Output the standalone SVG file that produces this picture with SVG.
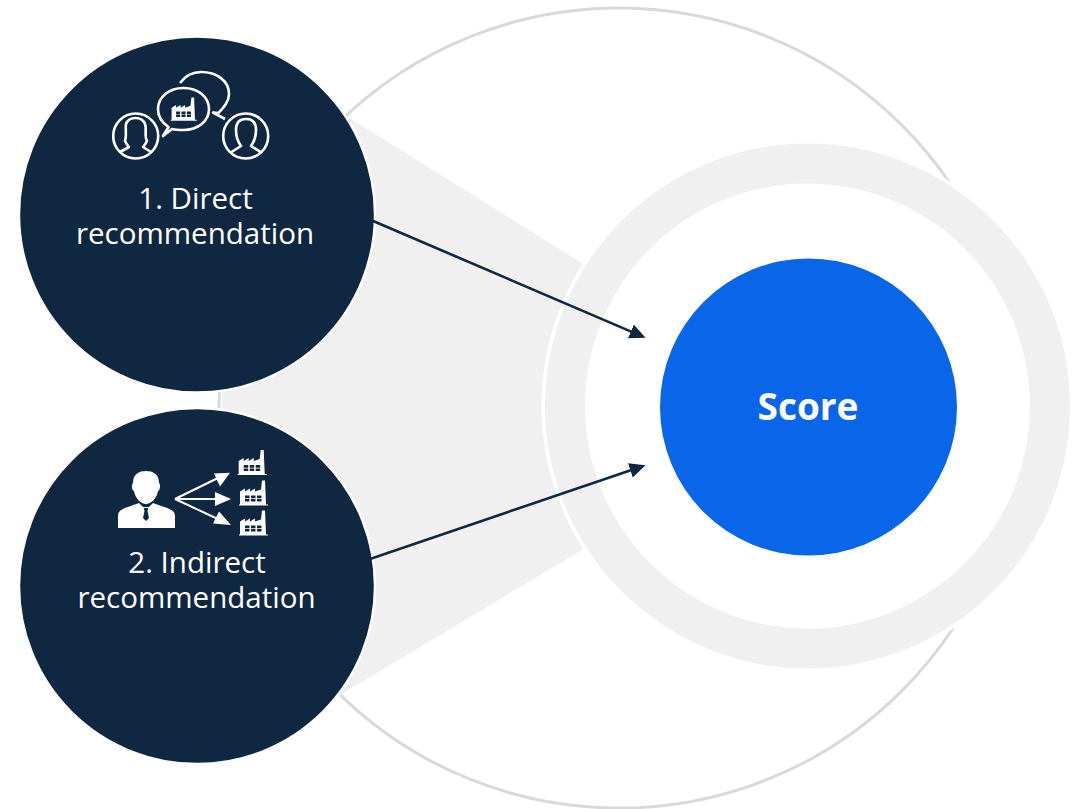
<svg xmlns="http://www.w3.org/2000/svg" xmlns:xlink="http://www.w3.org/1999/xlink" width="1081" height="809" viewBox="0 0 1081 809">
<style>
.lbl{font-family:"Open Sans","Noto Sans","Liberation Sans",sans-serif;font-size:29.5px;fill:#fff;text-anchor:middle}
.score{font-family:"Open Sans","Noto Sans","Liberation Sans",sans-serif;font-size:37px;font-weight:700;fill:#fff;text-anchor:middle}
.dark{fill:#102741;stroke:#fff;stroke-width:2.400}
.ln{fill:none;stroke:#fff;stroke-width:2.600;stroke-linejoin:round}
.conn{fill:none;stroke:#102741;stroke-width:2.600;marker-end:url(#ah)}
</style>
<defs>
<marker id="ah" markerUnits="userSpaceOnUse" markerWidth="17" markerHeight="16" refX="10.500" refY="7.500" orient="auto"><path d="M0,0L16,7.500L0,15Z" fill="#102741"/></marker>
<path id="fac" fill="#fff" fill-rule="evenodd" d="M0,25V24H1V11L6,8V11L11,8V11L16,8V11L22,9L23,0H26L27,24H29V25ZM6,15V17.700H10.500V15ZM12,15V17.700H16.500V15ZM18,15V17.700H22.500V15ZM6,18.400V21H10.500V18.400ZM12,18.400V21H16.500V18.400ZM18,18.400V21H22.500V18.400Z"/>
</defs>
<g id="background">
<circle cx="619" cy="408" r="400" fill="#fff" stroke="#d9d9d9" stroke-width="3"/>
<path d="M345,115L582,263V550L340,695L222,586V214Z" fill="#f0f0f0"/>
<circle cx="807.500" cy="406" r="266" fill="#fff"/>
<circle cx="807.500" cy="406" r="242.500" fill="#fff" stroke="#f0f0f0" stroke-width="40"/>
</g>
<g id="node-direct">
<circle class="dark" cx="197" cy="214.500" r="178"/>
<circle class="ln" cx="135.700" cy="136" r="22.500"/>
<path class="ln" d="M120,152L129,147C127,145 126,143 125,141C127,135 125,128 126,124C129,116 142,116 145,124C147,129 144,136 147,141C146,143 144,146 143,147L151,152"/>
<circle class="ln" cx="245.700" cy="136" r="22.500"/>
<path class="ln" d="M230,153L241,146C238,142 236,137 236,130C236,122 240,119 246,119C252,119 256,122 256,130C256,137 254,142 251,146L262,153"/>
<path class="ln" d="M163,136L168.500,127C161,122 158,116 158,109C158,97 169,88 183.500,88C198,88 209,97 209,109C209,121 198,130 183.500,130C178,130 174,129.500 172,129Z"/>
<use xlink:href="#fac" href="#fac" transform="translate(170.700,97.500) scale(.9,.93)"/>
<path class="ln" d="M180,83C186,75 193,72 201,72C217,72 229,81 229,94C229,102 223,108 218.500,113L213,112.500L225,119"/>
<text class="lbl" x="195.500" y="209">1. Direct</text>
<text class="lbl" x="195" y="244">recommendation</text>
</g>
<g id="node-indirect">
<circle class="dark" cx="197" cy="586" r="178"/>
<path fill="#fff" d="M133,483C133,474 139,471 146,471C153,471 159,474 159,483C161,484 160,491 158,491C157,498 151,504 146,504C141,504 135,498 134,491C132,491 131,484 133,483Z"/>
<path fill="#fff" d="M118,528V516C118,510 122,509 139,503L143,507H149L153,503C170,509 175,510 175,516V528Z"/>
<path fill="#102741" d="M143.700,508H148.300L147.500,511L149,518L146,521L143,518L144.500,511Z"/>
<path fill="none" stroke="#fff" stroke-width="2" d="M175,499L220,477M175,499H220M175,499L220,520"/>
<path fill="#fff" d="M230,472.700L214,473.500L220,486.500ZM231,499L215,492V506ZM231,525L219,511.500L213,523.500Z"/>
<use xlink:href="#fac" href="#fac" transform="translate(237.700,450)"/>
<use xlink:href="#fac" href="#fac" transform="translate(239,480.500)"/>
<use xlink:href="#fac" href="#fac" transform="translate(239,510.500)"/>
<text class="lbl" x="197" y="573">2. Indirect</text>
<text class="lbl" x="196.500" y="608">recommendation</text>
</g>
<g id="node-score">
<circle cx="808.500" cy="407" r="148.500" fill="#0a66e8"/>
<text class="score" x="808" y="420">Score</text>
</g>
<g id="connectors">
<path class="conn" d="M372,220.500L640.500,335.600"/>
<path class="conn" d="M370,559L640.300,466.900"/>
</g>
</svg>
